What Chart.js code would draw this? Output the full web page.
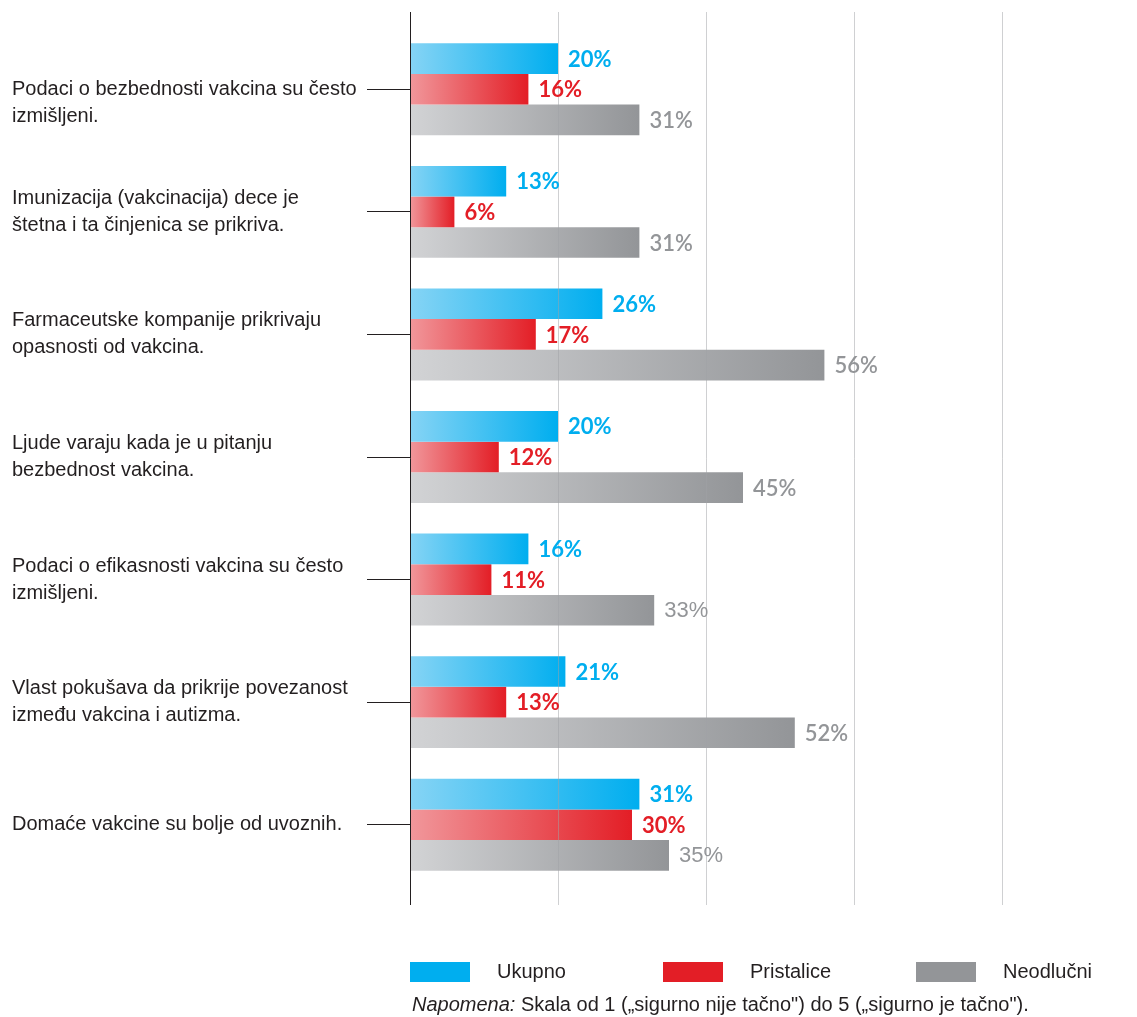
<!DOCTYPE html>
<html>
<head>
<meta charset="utf-8">
<script src="https://cdn.jsdelivr.net/npm/chart.js@4/dist/chart.umd.min.js"></script>
<style>
  html, body { margin: 0; padding: 0; background: #fff; }
  #wrap { position: relative; width: 1137px; height: 1017px; }
</style>
</head>
<body>
<div id="wrap"><canvas id="chart"></canvas></div>
<script>
// first label starts with a blank line so its first row sits on the tick
const categories = [
  ['', 'Podaci o bezbednosti vakcina su često', 'izmišljeni.'],
  ['Imunizacija (vakcinacija) dece je', 'štetna i ta činjenica se prikriva.'],
  ['Farmaceutske kompanije prikrivaju', 'opasnosti od vakcina.'],
  ['Ljude varaju kada je u pitanju', 'bezbednost vakcina.'],
  ['Podaci o efikasnosti vakcina su često', 'izmišljeni.'],
  ['Vlast pokušava da prikrije povezanost', 'između vakcina i autizma.'],
  ['Domaće vakcine su bolje od uvoznih.']
];
const seriesNames = ['Ukupno', 'Pristalice', 'Neodlučni'];
const ukupno = [20, 13, 26, 20, 16, 21, 31];
const pristalice = [16, 6, 17, 12, 11, 13, 30];
const neodlucni = [31, 31, 56, 45, 33, 52, 35];
const gridValues = [0, 20, 40, 60, 80];
const noteItalic = 'Napomena:';
const noteText = ' Skala od 1 („sigurno nije tačno") do 5 („sigurno je tačno").';

const NARROW = '"Liberation Sans Narrow", "Arial Narrow", "Liberation Sans", sans-serif';
const TEXT = '#231f20';

// [light, full, label colour]
const palette = [
  ['#86d4f5', '#00aeef', '#00aeef'],
  ['#f1979b', '#e31e26', '#e31e26'],
  ['#d2d3d5', '#939598', '#939598']
];

// bars fade from light at the axis to full colour at the bar end
function barFill(idx) {
  return (ctx) => {
    const xs = ctx.chart.scales.x;
    if (ctx.type !== 'data' || !xs) return palette[idx][1];
    const x0 = xs.getPixelForValue(0);
    const x1 = xs.getPixelForValue(ctx.raw);
    if (!isFinite(x0) || !isFinite(x1) || x1 <= x0) return palette[idx][1];
    const g = ctx.chart.ctx.createLinearGradient(x0, 0, x1, 0);
    g.addColorStop(0, palette[idx][0]);
    g.addColorStop(1, palette[idx][1]);
    return g;
  };
}

const decorations = {
  id: 'decorations',
  afterDatasetsDraw(chart) {
    const { ctx, chartArea } = chart;
    const xs = chart.scales.x;
    const top = chartArea.top - 16;
    const bottom = chartArea.bottom + 19;

    // vertical grid and the zero axis
    ctx.save();
    gridValues.forEach((v) => {
      const x = Math.round(xs.getPixelForValue(v)) + 0.5;
      ctx.beginPath();
      ctx.moveTo(x, top);
      ctx.lineTo(x, bottom);
      ctx.lineWidth = 1;
      ctx.strokeStyle = v === 0 ? '#231f20' : 'rgba(160,161,165,0.5)';
      ctx.stroke();
    });
    ctx.restore();

    // value labels
    ctx.save();
    ctx.textBaseline = 'middle';
    ctx.textAlign = 'left';
    chart.data.datasets.forEach((ds, di) => {
      const meta = chart.getDatasetMeta(di);
      meta.data.forEach((bar, i) => {
        const narrow = di === 2 && (i === 4 || i === 6);
        if (narrow) ctx.font = 'normal 22px ' + NARROW;
        else if (di === 2) ctx.font = '600 22px Lato, sans-serif';
        else ctx.font = 'bold 22px Lato, sans-serif';
        ctx.fillStyle = palette[di][2];
        ctx.fillText(ds.data[i] + '%', bar.x + 10, bar.y + 1);
      });
    });
    ctx.restore();

    // legend
    const lx = xs.getPixelForValue(0);
    const ly = chartArea.bottom + 76;
    ctx.save();
    ctx.font = '20px ' + NARROW;
    ctx.textBaseline = 'middle';
    ctx.fillStyle = TEXT;
    seriesNames.forEach((name, k) => {
      const bx = lx + k * 253;
      ctx.fillStyle = palette[k][1];
      ctx.fillRect(bx, ly, 60, 20);
      ctx.fillStyle = TEXT;
      ctx.fillText(name, bx + 87, ly + 10);
    });

    // note under the legend
    const ny = ly + 43;
    ctx.font = 'italic 20px ' + NARROW;
    ctx.fillText(noteItalic, lx + 2, ny);
    const w = ctx.measureText(noteItalic).width;
    ctx.font = '20px ' + NARROW;
    ctx.fillText(noteText, lx + 2 + w, ny);
    ctx.restore();
  }
};

new Chart(document.getElementById('chart'), {
  type: 'bar',
  data: {
    labels: categories,
    datasets: [
      { label: seriesNames[0], data: ukupno, backgroundColor: barFill(0) },
      { label: seriesNames[1], data: pristalice, backgroundColor: barFill(1) },
      { label: seriesNames[2], data: neodlucni, backgroundColor: barFill(2) }
    ]
  },
  options: {
    indexAxis: 'y',
    responsive: true,
    maintainAspectRatio: false,
    animation: false,
    categoryPercentage: 0.75,
    barPercentage: 1,
    layout: { padding: { left: 12, right: 135, top: 28, bottom: 131 } },
    scales: {
      x: { type: 'linear', min: 0, max: 80, display: false },
      y: {
        type: 'category',
        border: { display: false },
        grid: {
          offset: false,
          drawOnChartArea: false,
          drawTicks: true,
          tickLength: 43,
          tickColor: TEXT,
          tickWidth: 1
        },
        ticks: {
          crossAlign: 'far',
          color: TEXT,
          padding: 0,
          font: { family: NARROW, size: 20, lineHeight: 1.35 }
        },
        afterFit(scale) { scale.width = 398; }
      }
    },
    plugins: {
      legend: { display: false },
      tooltip: { enabled: false }
    }
  },
  plugins: [decorations]
});
</script>
</body>
</html>
